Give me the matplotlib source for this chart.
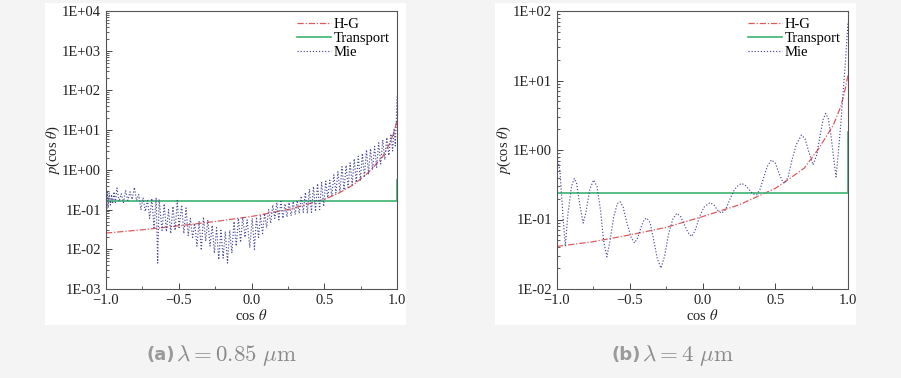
import numpy as np
import matplotlib.pyplot as plt
from matplotlib.patches import Rectangle
from matplotlib.ticker import FuncFormatter, LogLocator, MultipleLocator, NullFormatter

# ---- data ----
# (a) lambda = 0.85 um
hg_a_x = [-1.0, -0.75, -0.5, -0.25, 0.0, 0.25, 0.5, 0.6, 0.7, 0.8, 0.9, 0.95, 0.975, 0.99, 1.0]
hg_a_y = [0.0256, 0.031, 0.039, 0.050, 0.067, 0.10, 0.18, 0.26, 0.42, 0.83, 2.1, 4.6, 8.0, 12.5, 18.0]

tr_a_x = [-1.0, 1.0, 1.0]
tr_a_y = [0.163, 0.163, 0.56]

mie_a_x = [-1.0, -0.995, -0.99, -0.985, -0.978, -0.97, -0.962, -0.955, -0.945, -0.935,
           -0.925, -0.91, -0.895, -0.88, -0.865, -0.85, -0.835, -0.82, -0.805, -0.79,
           -0.775, -0.76, -0.745, -0.73, -0.715, -0.70, -0.685, -0.67, -0.655, -0.645,
           -0.635, -0.615, -0.60, -0.585, -0.57, -0.555, -0.54, -0.525, -0.51, -0.498,
           -0.48, -0.465, -0.45, -0.435, -0.42, -0.405, -0.39, -0.375, -0.36, -0.345,
           -0.33, -0.315, -0.30, -0.285, -0.27, -0.255, -0.24, -0.225, -0.21, -0.195,
           -0.18, -0.165, -0.15, -0.135, -0.12, -0.105, -0.09, -0.075, -0.06, -0.045,
           -0.03, -0.012, 0.005, 0.02, 0.034, 0.048, 0.062, 0.076, 0.09, 0.104,
           0.118, 0.132, 0.146, 0.16, 0.174, 0.188, 0.202, 0.216, 0.23, 0.244,
           0.258, 0.272, 0.286, 0.30, 0.314, 0.328, 0.342, 0.356, 0.37, 0.384,
           0.398, 0.412, 0.426, 0.44, 0.454, 0.468, 0.482, 0.496, 0.51, 0.524,
           0.538, 0.552, 0.566, 0.58, 0.594, 0.608, 0.622, 0.636, 0.65, 0.664,
           0.678, 0.692, 0.706, 0.72, 0.734, 0.748, 0.762, 0.776, 0.79, 0.804,
           0.818, 0.832, 0.846, 0.86, 0.874, 0.888, 0.902, 0.916, 0.93, 0.944,
           0.958, 0.97, 0.98, 0.988, 0.995, 1.0]
mie_a_y = [0.8, 0.10, 0.30, 0.11, 0.26, 0.13, 0.24, 0.14, 0.28, 0.15,
           0.35, 0.16, 0.25, 0.15, 0.30, 0.17, 0.28, 0.18, 0.36, 0.17,
           0.24, 0.10, 0.20, 0.09, 0.17, 0.06, 0.19, 0.035, 0.20, 0.0045,
           0.18, 0.03, 0.14, 0.028, 0.10, 0.025, 0.12, 0.03, 0.17, 0.035,
           0.13, 0.025, 0.11, 0.022, 0.06, 0.02, 0.045, 0.012, 0.05, 0.0095,
           0.065, 0.016, 0.055, 0.012, 0.04, 0.008, 0.035, 0.0055, 0.03, 0.006,
           0.028, 0.0045, 0.03, 0.008, 0.05, 0.012, 0.06, 0.015, 0.065, 0.02,
           0.055, 0.011, 0.06, 0.010, 0.065, 0.02, 0.07, 0.025, 0.08, 0.035,
           0.10, 0.045, 0.13, 0.06, 0.15, 0.055, 0.16, 0.06, 0.14, 0.065,
           0.15, 0.07, 0.16, 0.075, 0.17, 0.08, 0.22, 0.085, 0.27, 0.08,
           0.33, 0.085, 0.38, 0.09, 0.45, 0.10, 0.48, 0.12, 0.52, 0.20,
           0.55, 0.22, 0.75, 0.26, 0.90, 0.28, 1.2, 0.31, 1.3, 0.36,
           1.5, 0.42, 1.9, 0.48, 2.2, 0.55, 2.6, 0.65, 3.2, 0.80,
           3.4, 1.0, 3.9, 1.15, 4.8, 1.4, 5.7, 1.8, 6.5, 2.3,
           8.0, 3.0, 11, 4.0, 16, 70]

# (b) lambda = 4 um
hg_b_x = [-1.0, -0.75, -0.5, -0.25, 0.0, 0.25, 0.5, 0.6, 0.7, 0.8, 0.9, 0.95, 0.975, 0.99, 1.0]
hg_b_y = [0.041, 0.048, 0.060, 0.077, 0.110, 0.162, 0.28, 0.39, 0.55, 1.06, 2.3, 4.2, 6.6, 9.4, 11.9]

tr_b_x = [-1.0, 1.0, 1.0]
tr_b_y = [0.244, 0.244, 1.83]

mie_b_x = [-1.0, -0.98, -0.96, -0.943, -0.925, -0.90, -0.881, -0.865, -0.845, -0.82,
           -0.80, -0.775, -0.749, -0.725, -0.70, -0.68, -0.657, -0.635, -0.61, -0.585,
           -0.566, -0.545, -0.52, -0.49, -0.467, -0.445, -0.42, -0.40, -0.383, -0.36,
           -0.335, -0.31, -0.285, -0.26, -0.235, -0.205, -0.177, -0.15, -0.125, -0.10,
           -0.074, -0.05, -0.02, 0.01, 0.051, 0.08, 0.105, 0.131, 0.16, 0.19,
           0.22, 0.245, 0.269, 0.295, 0.32, 0.345, 0.371, 0.395, 0.42, 0.445,
           0.474, 0.50, 0.525, 0.545, 0.566, 0.59, 0.615, 0.645, 0.68, 0.705,
           0.73, 0.76, 0.785, 0.81, 0.83, 0.847, 0.865, 0.885, 0.90, 0.918,
           0.935, 0.95, 0.966, 0.983, 1.0]
mie_b_y = [0.85, 0.5, 0.12, 0.041, 0.12, 0.30, 0.39, 0.33, 0.17, 0.089,
           0.13, 0.27, 0.37, 0.30, 0.13, 0.05, 0.029, 0.05, 0.11, 0.17,
           0.18, 0.15, 0.09, 0.055, 0.046, 0.055, 0.08, 0.10, 0.105, 0.09,
           0.05, 0.027, 0.020, 0.03, 0.06, 0.10, 0.123, 0.11, 0.085, 0.065,
           0.057, 0.07, 0.11, 0.15, 0.175, 0.16, 0.135, 0.123, 0.14, 0.20,
           0.27, 0.31, 0.33, 0.31, 0.27, 0.235, 0.226, 0.27, 0.40, 0.58,
           0.72, 0.65, 0.47, 0.37, 0.33, 0.42, 0.72, 1.2, 1.64, 1.45,
           0.95, 0.61, 0.85, 1.7, 2.8, 3.36, 2.8, 1.5, 0.8, 0.41,
           1.0, 2.3, 6.5, 19.6, 70]

panels = [
    ('(a)', r'$\lambda = 0.85\ \mu\mathrm{m}$', (1e-3, 1e4), hg_a_x, hg_a_y, tr_a_x, tr_a_y, mie_a_x, mie_a_y),
    ('(b)', r'$\lambda = 4\ \mu\mathrm{m}$', (1e-2, 1e2), hg_b_x, hg_b_y, tr_b_x, tr_b_y, mie_b_x, mie_b_y),
]

plt.rcParams['font.family'] = ['Liberation Serif', 'DejaVu Serif']
plt.rcParams['mathtext.fontset'] = 'stix'

W, H = 901, 378
fig = plt.figure(figsize=(W / 100, H / 100), dpi=100, facecolor='#f4f4f4')

panel_left = [45, 495]
axes_left = [106, 557]
tag_right = [175, 641]

for i, (tag, cap, ylim, hx, hy, tx, ty, mx, my) in enumerate(panels):
    # white card behind each chart
    fig.patches.append(Rectangle((panel_left[i] / W, 1 - 325 / H), 361 / W, 322 / H,
                                 transform=fig.transFigure, facecolor='white',
                                 edgecolor='none', zorder=-5))
    ax = fig.add_axes([axes_left[i] / W, 1 - 289 / H, 291 / W, 278 / H])
    ax.set_zorder(2)
    ax.plot(hx, hy, color='#e05a5c', lw=0.9, dashes=(5, 1.5, 1, 1.5), label='H-G')
    ax.plot(tx, ty, color='#3cb371', lw=1.2, label='Transport')
    ax.plot(mx, my, color='#4a4a98', lw=0.85, ls=(0, (1, 1.6)), label='Mie')

    ax.set_yscale('log')
    ax.set_xlim(-1, 1)
    ax.set_ylim(*ylim)
    ax.xaxis.set_major_locator(MultipleLocator(0.5))
    ax.xaxis.set_minor_locator(MultipleLocator(0.25))
    ax.yaxis.set_major_locator(LogLocator(base=10, numticks=20))
    ax.yaxis.set_minor_locator(LogLocator(base=10, subs=np.arange(2, 10), numticks=20))
    ax.yaxis.set_major_formatter(FuncFormatter(lambda v, p: f'1E{int(round(np.log10(v))):+03d}'))
    ax.yaxis.set_minor_formatter(NullFormatter())
    ax.tick_params(which='both', direction='in', top=False, right=False,
                   labelsize=10.5, color='#444', labelcolor='#222')
    ax.tick_params(which='major', length=4, width=0.7)
    ax.tick_params(which='minor', length=2, width=0.6)
    for s in ax.spines.values():
        s.set_color('#555')
        s.set_linewidth(0.8)

    ax.set_xlabel(r'cos $\theta$', fontsize=10.5, labelpad=1, color='#222')
    ax.set_ylabel(r'$p$(cos $\theta$)', fontsize=10.5, labelpad=0, color='#222')
    ax.legend(loc='upper right', frameon=False, fontsize=10.5, handlelength=2.3,
              handletextpad=0.2, labelspacing=0.05, borderaxespad=0.3, borderpad=0.2)

    # caption under the card
    fig.text(tag_right[i] / W, 1 - 355 / H, tag, family='DejaVu Sans',
             weight='bold', fontsize=13, color='#9a9a9a', ha='right', va='center')
    fig.text((tag_right[i] + 1) / W, 1 - 355 / H, cap, fontsize=16.5,
             color='#8a8a8a', ha='left', va='center', math_fontfamily='cm')

fig.savefig('out.png', dpi=100, facecolor=fig.get_facecolor())
